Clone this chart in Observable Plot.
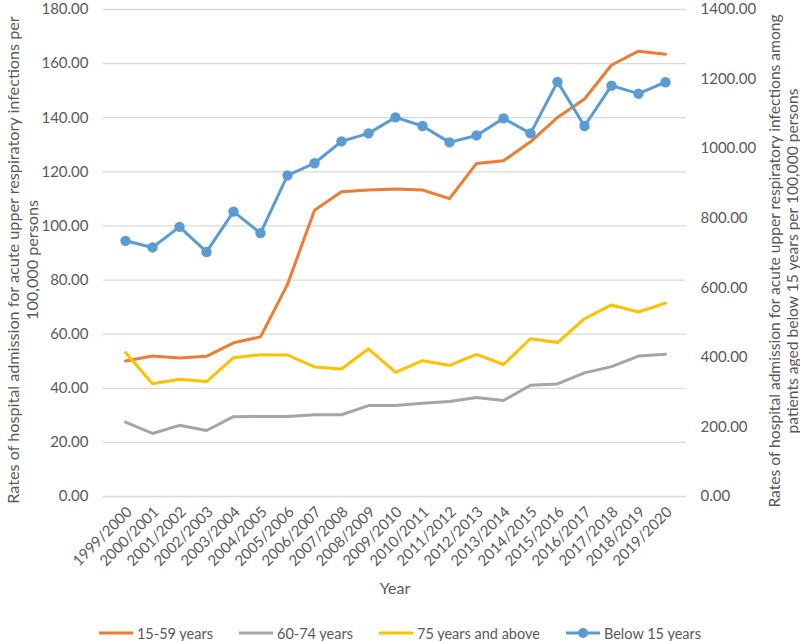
<!DOCTYPE html>
<html>
<head>
<meta charset="utf-8">
<script src="https://cdn.jsdelivr.net/npm/d3@7"></script>
<script src="https://cdn.jsdelivr.net/npm/@observablehq/plot@0.6"></script>
<style>
  html, body { margin: 0; padding: 0; background: #fff; }
  #chart svg { display: block; }
  #legend { display: flex; justify-content: center; align-items: center; gap: 26px;
    height: 36px; font: 14.5px Lato, sans-serif; color: #595959; }
  #legend .item { display: flex; align-items: center; white-space: nowrap; }
  #legend svg { margin-right: 4px; }
</style>
</head>
<body>
<div id="chart"></div>
<div id="legend"></div>
<script>
// ---- data ----
const years = ["1999/2000","2000/2001","2001/2002","2002/2003","2003/2004","2004/2005","2005/2006",
  "2006/2007","2007/2008","2008/2009","2009/2010","2010/2011","2011/2012","2012/2013","2013/2014",
  "2014/2015","2015/2016","2016/2017","2017/2018","2018/2019","2019/2020"];
const age15to59 = [50.1, 51.9, 51.2, 51.8, 56.8, 59.0, 78.4, 105.8, 112.6, 113.3, 113.7, 113.3, 110.1,
  123.1, 124.1, 131.1, 140.1, 146.9, 159.5, 164.6, 163.5];
const age60to74 = [27.5, 23.3, 26.3, 24.4, 29.5, 29.6, 29.6, 30.2, 30.2, 33.6, 33.6, 34.5, 35.1,
  36.6, 35.5, 41.1, 41.6, 45.7, 48.0, 51.9, 52.6];
const age75plus = [53.2, 41.7, 43.3, 42.5, 51.3, 52.4, 52.3, 47.9, 47.1, 54.6, 45.9, 50.2, 48.5,
  52.5, 48.8, 58.3, 56.9, 65.7, 70.8, 68.2, 71.5];
const below15 = [735, 716, 775, 703, 819, 757, 923, 958, 1021, 1044, 1090, 1065, 1018,
  1038, 1087, 1044, 1192, 1065, 1181, 1158, 1191];   // right axis

const leftTicks = [0, 20, 40, 60, 80, 100, 120, 140, 160, 180];
const rightTicks = [0, 200, 400, 600, 800, 1000, 1200, 1400];
const seriesNames = ["15-59 years", "60-74 years", "75 years and above", "Below 15 years"];
const seriesColors = ["#ED7D31", "#A5A5A5", "#FFC000", "#5B9BD5"];
const leftTitle = "Rates of hospital admission for acute upper respiratory infections per\n100,000 persons";
const rightTitle = "Rates of hospital admission for acute upper respiratory infections among\npatients aged below 15 years per 100,000 persons";
const xTitle = "Year";

// ---- scales: right axis mapped onto left domain ----
const leftMax = 180, rightMax = 1400;
const k = leftMax / rightMax;

const rows = (vals, scale = 1) => years.map((yr, i) => ({year: yr, v: vals[i] * scale}));
const d1559 = rows(age15to59), d6074 = rows(age60to74), d75 = rows(age75plus), dB15 = rows(below15, k);

const chart = Plot.plot({
  width: 800, height: 615,
  marginTop: 9, marginBottom: 119, marginLeft: 103, marginRight: 114,
  style: {fontFamily: "Lato, sans-serif", fontSize: "15px", color: "#595959", background: "#fff"},
  x: {type: "point", domain: years, padding: 0.5},
  y: {domain: [0, leftMax]},
  marks: [
    Plot.gridY(leftTicks, {stroke: "#d9d9d9", strokeOpacity: 1, strokeWidth: 1.3}),
    Plot.axisY(leftTicks, {anchor: "left", tickSize: 0, tickPadding: 15, tickFormat: d => d.toFixed(2), label: null}),
    Plot.axisY(rightTicks.map(v => v * k), {anchor: "right", tickSize: 0, tickPadding: 14,
      tickFormat: d => (Math.round(d / k)).toFixed(2), label: null}),
    Plot.axisX({tickRotate: -45, tickSize: 0, tickPadding: 13, dx: 4, label: null}),
    Plot.line(d1559, {x: "year", y: "v", stroke: seriesColors[0], strokeWidth: 3}),
    Plot.line(d6074, {x: "year", y: "v", stroke: seriesColors[1], strokeWidth: 3}),
    Plot.line(d75, {x: "year", y: "v", stroke: seriesColors[2], strokeWidth: 3}),
    Plot.line(dB15, {x: "year", y: "v", stroke: seriesColors[3], strokeWidth: 3}),
    Plot.dot(dB15, {x: "year", y: "v", r: 5.2, fill: seriesColors[3], stroke: "none"}),
    Plot.text([leftTitle], {frameAnchor: "left", rotate: -90, dx: -81, dy: 7, fontSize: 16.2,
      fill: "#595959", textAnchor: "middle", lineAnchor: "middle", lineHeight: 1.15}),
    Plot.text([rightTitle], {frameAnchor: "right", rotate: -90, dx: 97, dy: 8, fontSize: 15.6,
      fill: "#595959", textAnchor: "middle", lineAnchor: "middle", lineHeight: 1.15}),
    Plot.text([xTitle], {frameAnchor: "bottom", dy: 92, fontSize: 16, fill: "#595959", lineAnchor: "middle"})
  ]
});
document.getElementById("chart").appendChild(chart);

// ---- legend ----
const legend = document.getElementById("legend");
seriesNames.forEach((name, i) => {
  const item = document.createElement("div");
  item.className = "item";
  const marker = i === 3 ? `<circle cx="17" cy="6" r="5" fill="${seriesColors[i]}"/>` : "";
  item.innerHTML = `<svg width="34" height="12"><line x1="0" x2="34" y1="6" y2="6" stroke="${seriesColors[i]}" stroke-width="3"/>${marker}</svg><span>${name}</span>`;
  legend.appendChild(item);
});
</script>
</body>
</html>
